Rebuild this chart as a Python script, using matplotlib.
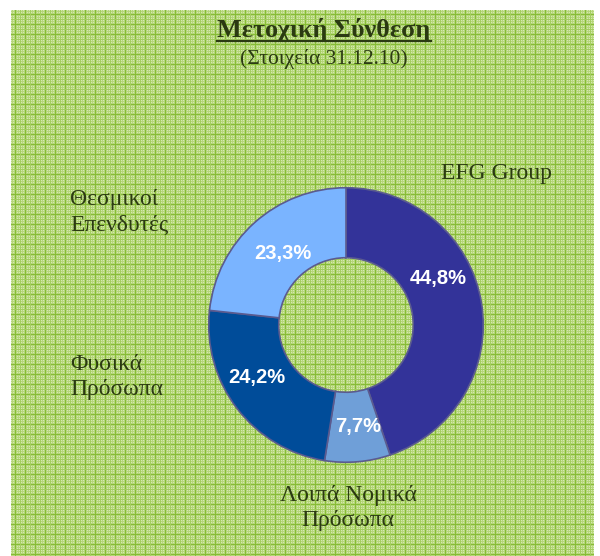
import numpy as np
import matplotlib.pyplot as plt
from matplotlib.colors import to_rgb

# data
categories = ["EFG Group", "Λοιπά Νομικά\nΠρόσωπα", "Φυσικά\nΠρόσωπα", "Θεσμικοί\nΕπενδυτές"]
shares = [44.8, 7.7, 24.2, 23.3]
pct_labels = ["44,8%", "7,7%", "24,2%", "23,3%"]
colors = ["#333399", "#6f9fd8", "#004c99", "#7ab4ff"]

W, H = 600, 556
fig = plt.figure(figsize=(W / 100, H / 100), dpi=100)
fig.patch.set_facecolor("white")

# background panel with green checked texture
bg = fig.add_axes([0, 0, 1, 1])
bg.set_xlim(0, W)
bg.set_ylim(H, 0)
bg.axis("off")
x0, x1, y0, y1 = 11, 594, 10, 556
tex = np.ones((y1 - y0, x1 - x0, 3)) * np.array(to_rgb("#b6d67a"))
yy, xx = np.mgrid[0:y1 - y0, 0:x1 - x0]
dots = ((xx % 2 == 0) & (yy % 2 == 0))
tex[dots] = to_rgb("#d4e9b0")
tex[(xx % 10) == 4] = to_rgb("#86bc36")
tex[(yy % 10) == 4] = to_rgb("#86bc36")
tex[(xx % 10) == 9] = to_rgb("#a4cd60")
tex[(yy % 10) == 9] = to_rgb("#a4cd60")
bg.imshow(tex, extent=(x0, x1, y1, y0), interpolation="nearest", aspect="auto")

txt_col = "#2b3a12"
title = bg.text(324, 37, "Μετοχική Σύνθεση", ha="center", va="baseline",
                fontsize=18.8, fontweight="bold", family="Liberation Serif", color=txt_col)
bg.text(324, 64, "(Στοιχεία 31.12.10)", ha="center", va="baseline",
        fontsize=15.5, family="Liberation Serif", color=txt_col)

# underline the title
fig.canvas.draw()
bb = title.get_window_extent()
inv = bg.transData.inverted()
(ux0, _), (ux1, _) = inv.transform([(bb.x0, bb.y0), (bb.x1, bb.y0)])
bg.plot([ux0, ux1], [41, 41], color=txt_col, lw=1.6)

# outside labels
lab_kw = dict(fontsize=17, family="Liberation Serif", color=txt_col, linespacing=1.3)
bg.text(496, 173, categories[0], ha="center", va="center", **lab_kw)
bg.text(348, 508, categories[1], ha="center", va="center", **lab_kw)
bg.text(70, 377, categories[2], ha="left", va="center", **lab_kw)
bg.text(70, 212, categories[3], ha="left", va="center", **lab_kw)

# donut
cx, cy, r = 346, 325, 140
ax = fig.add_axes([(cx - r) / W, (H - cy - r) / H, 2 * r / W, 2 * r / H])
wedges, _ = ax.pie(shares, colors=colors, startangle=90, counterclock=False, radius=1,
                   wedgeprops=dict(width=0.51, edgecolor="#5b5b8f", linewidth=1.2))
ax.set_xlim(-1.02, 1.02)
ax.set_ylim(-1.02, 1.02)
ax.set_aspect("equal")
ax.axis("off")

pct_pos = [(0.67, 0.34), (0.086, -0.743), (-0.65, -0.386), (-0.457, 0.52)]
for (px, py), s in zip(pct_pos, pct_labels):
    ax.text(px, py, s, ha="center", va="center", color="white", fontsize=14.5,
            fontweight="bold", family="Liberation Sans")

fig.savefig("out.png", dpi=100, facecolor="white")
